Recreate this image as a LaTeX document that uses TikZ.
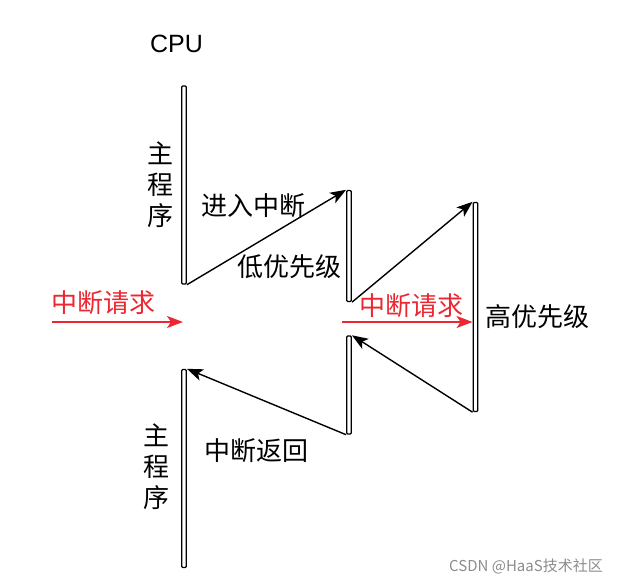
\documentclass[tikz,border=0pt]{standalone}
\usepackage{fontspec}
\setmainfont{Liberation Sans}
\newfontfamily\cjk{Noto Sans CJK SC}
\usetikzlibrary{arrows.meta}
\definecolor{req}{RGB}{235,40,50}
\tikzset{
  bar/.style={draw, line width=1.4pt, fill=white, minimum width=4.5pt, inner sep=0pt, rounded corners=1pt},
  arr/.style={line width=1.4pt, -{Stealth[length=16pt,width=12pt,inset=4pt]}},
  reqarr/.style={draw=req, line width=1.7pt, -{Stealth[length=16pt,width=12pt,inset=4pt]}},
  lbl/.style={font=\cjk\fontsize{26}{31}\selectfont, inner sep=0pt},
  reqlbl/.style={lbl, text=req},
}
\begin{document}
\begin{tikzpicture}[x=1pt,y=-1pt]
\useasboundingbox (0,0) rectangle (621,583);
% bars
\node[bar, minimum height=198pt] (b1) at (184,185) {};
\node[bar, minimum height=111pt] (b2) at (349,246) {};
\node[bar, minimum height=209pt] (b3) at (475.5,307) {};
\node[bar, minimum height=98pt] (b4) at (349,385) {};
\node[bar, minimum height=198pt] (b5) at (184,468.5) {};
% arrows
\draw[arr] (b1.south east) -- (b2.north west);
\draw[arr] (b2.south east) -- (b3.north west);
\draw[arr] (b3.south west) -- (b4.north east);
\draw[arr] (b4.south west) -- (b5.north east);
% request arrows
\coordinate (r1s) at (52,322);
\coordinate (r1e) at (183,322);
\coordinate (r2s) at (342,322);
\draw[reqarr] (r1s) -- (r1e);
\draw[reqarr] (r2s) -- (r2s -| b3.west);
% labels
\node[font=\fontsize{25}{30}\selectfont, inner sep=0pt] (cpu) at (176.5,44) {CPU};
\node[lbl, align=center] (m1) at (160,185) {主\\程\\序};
\node[lbl, align=center] (m2) at (156,467) {主\\程\\序};
\node[lbl] (in) at (253,206) {进入中断};
\node[lbl] (low) at (289,267) {低优先级};
\node[lbl] (high) at (537,317) {高优先级};
\node[lbl] (ret) at (256,451) {中断返回};
\node[reqlbl] (q1) at (103,303) {中断请求};
\node[reqlbl] (q2) at (411,306) {中断请求};
\node[font=\cjk\fontsize{15}{17}\selectfont, text=black!45, inner sep=0pt] (wm) at (526,566) {CSDN @HaaS技术社区};
\end{tikzpicture}
\end{document}
